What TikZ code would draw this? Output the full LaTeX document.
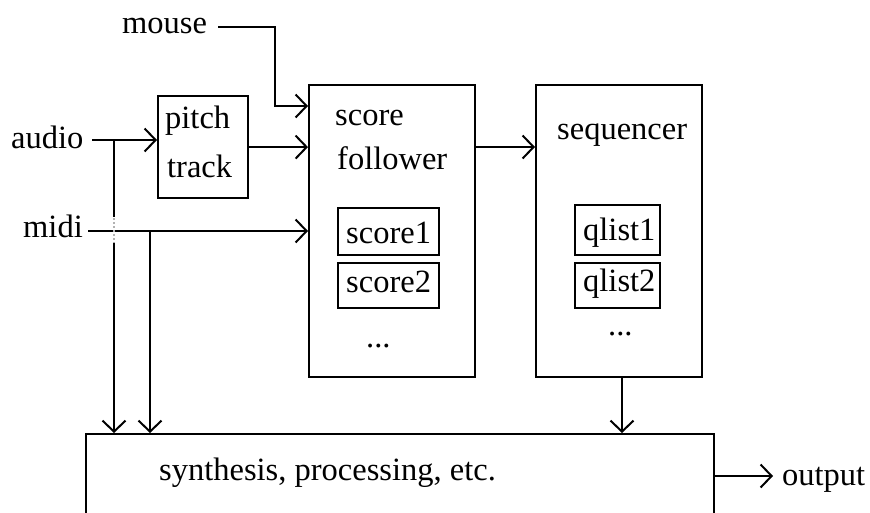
\documentclass[tikz,border=0pt]{standalone}
\usepackage{fontspec}
\setmainfont{Liberation Serif}
\usetikzlibrary{arrows.meta}
\begin{document}
\begin{tikzpicture}[x=1pt,y=-1pt,
  box/.style={draw,line width=2.2pt,inner sep=0pt,anchor=north west},
  lbl/.style={inner sep=0pt,anchor=base west,font=\fontsize{32.5}{38}\selectfont},
  arr/.style={line width=2pt,-{Straight Barb[length=11pt,width=23pt,line width=2pt]}},
  wire/.style={line width=2pt}]
\useasboundingbox (0,0) rectangle (870,512);
\clip (0,0) rectangle (870,512);
\fill[white] (0,0) rectangle (870,512);

% processing blocks
\node[box,minimum width=90pt,minimum height=102pt] (pitch) at (157,95) {};
\node[box,minimum width=166pt,minimum height=292pt] (score) at (308,84) {};
\node[box,minimum width=166pt,minimum height=292pt] (seq) at (535,84) {};
\node[box,minimum width=101pt,minimum height=47pt] (score1) at (337,207) {};
\node[box,minimum width=101pt,minimum height=45pt] (score2) at (337,262) {};
\node[box,minimum width=85pt,minimum height=50pt] (qlist1) at (574,204) {};
\node[box,minimum width=85pt,minimum height=45pt] (qlist2) at (574,262) {};
\node[box,minimum width=628pt,minimum height=110pt] (synth) at (85,433) {};

% texts
\node[lbl] (mouse) at (122,33) {mouse};
\node[lbl] (audio) at (11,148) {audio};
\node[lbl] (midi) at (23,237) {midi};
\node[lbl] (pitchA) at (165,128) {pitch};
\node[lbl] (pitchB) at (167,177) {track};
\node[lbl] (scoreA) at (335,125) {score};
\node[lbl] (scoreB) at (337,169) {follower};
\node[lbl] (seqA) at (557,139) {sequencer};
\node[lbl] (s1) at (346,243) {score1};
\node[lbl] (s2) at (346,292) {score2};
\node[lbl] (q1) at (583,240) {qlist1};
\node[lbl] (q2) at (583,291) {qlist2};
\node[lbl] (sdots) at (366,347) {...};
\node[lbl] (qdots) at (608,335) {...};
\node[lbl] (synthA) at (159,480) {synthesis, processing, etc.};
\node[lbl] (outA) at (782,485) {output};

% connector end points next to the input labels
\coordinate (mouseout) at (218,27);
\coordinate (audioout) at (92,140);
\coordinate (audiotap) at (114,140);
\coordinate (midiout) at (88,231);
\coordinate (miditap) at (150,231);

% inputs
\draw[arr] (mouseout) -- (275,27) -- (275,106) -- (score.west |- 0,106);
\draw[arr] (audioout) -- (audioout -| pitch.west);
\draw[arr] (pitch.east) -- (pitch.east -| score.west);
\draw[arr] (midiout) -- (midiout -| score.west);

% taps down to the synthesis block
\draw[wire] (audiotap) -- (114,217);
\draw[line width=2pt,gray!60,dash pattern=on 2pt off 2pt] (114,218) -- (114,243);
\draw[arr] (114,243) -- (audiotap |- synth.north);
\draw[arr] (miditap) -- (miditap |- synth.north);

% score follower to sequencer to synthesis
\draw[arr] (score.east |- 0,147) -- (seq.west |- 0,147);
\draw[arr] (seq.south -| 622,0) -- (synth.north -| 622,0);

% output
\draw[arr] (synth.east |- 0,476) -- (773,476);
\end{tikzpicture}
\end{document}
